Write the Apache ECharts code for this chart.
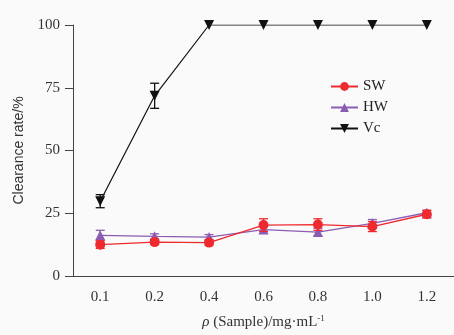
<!DOCTYPE html>
<html>
<head>
<meta charset="utf-8">
<script src="https://cdn.jsdelivr.net/npm/echarts@6/dist/echarts.min.js"></script>
<style>
html,body{margin:0;padding:0;background:#fafafa;}
#c{width:454px;height:335px;}
</style>
</head>
<body>
<div id="c"></div>
<script>
const categories = ['0.1','0.2','0.4','0.6','0.8','1.0','1.2'];
const yTicks = [0, 25, 50, 75, 100];
const swValues = [12.5, 13.5, 13.3, 20.3, 20.5, 19.7, 24.6];
const swErrors = [1.5, 1.0, 1.0, 2.5, 2.3, 2.0, 1.5];
const hwValues = [16.2, 15.8, 15.5, 18.5, 17.5, 21.0, 25.2];
const hwErrors = [2.0, 1.0, 1.0, 1.5, 1.5, 1.5, 1.0];
const vcValues = [29.8, 71.8, 100, 100, 100, 100, 100];
const vcErrors = [2.6, 5.0, 0, 0, 0, 0, 0];

const SERIF = 'Liberation Serif';
const colors = { SW: '#ee2a2e', HW: '#8a5db3', Vc: '#111111' };

function errData(vals, errs) {
  return vals.map((v, i) => [i, v - errs[i], v + errs[i]]);
}
function errRender(color) {
  return function (params, api) {
    const i = api.value(0);
    const lo = api.coord([i, api.value(1)]);
    const hi = api.coord([i, api.value(2)]);
    if (Math.abs(lo[1] - hi[1]) < 0.5) return null;
    const w = 4.5;
    const st = { stroke: color, lineWidth: 1.3 };
    return {
      type: 'group',
      children: [
        { type: 'line', shape: { x1: lo[0], y1: lo[1], x2: hi[0], y2: hi[1] }, style: st },
        { type: 'line', shape: { x1: lo[0] - w, y1: lo[1], x2: lo[0] + w, y2: lo[1] }, style: st },
        { type: 'line', shape: { x1: hi[0] - w, y1: hi[1], x2: hi[0] + w, y2: hi[1] }, style: st }
      ]
    };
  };
}

const chart = echarts.init(document.getElementById('c'));
chart.setOption({
  backgroundColor: '#fafafa',
  animation: false,
  grid: { left: 73, right: -2, top: 25, bottom: 57 },
  legend: {
    data: ['SW', 'HW', 'Vc'],
    orient: 'vertical',
    left: 325,
    top: 74,
    itemWidth: 27,
    itemHeight: 11,
    itemGap: 6,
    textStyle: { fontFamily: SERIF, fontSize: 15, color: '#222' }
  },
  xAxis: {
    type: 'category',
    data: categories,
    boundaryGap: true,
    axisLine: { lineStyle: { color: '#444', width: 1 } },
    axisTick: { alignWithLabel: true, length: 5, lineStyle: { color: '#444' } },
    axisLabel: { fontFamily: SERIF, fontSize: 15, color: '#333', margin: 14 },
    splitLine: { show: false },
    name: '{i|ρ} (Sample)/mg·mL{sup|-1}',
    nameLocation: 'middle',
    nameGap: 38,
    nameTextStyle: {
      fontFamily: SERIF, fontSize: 15, color: '#333',
      rich: {
        i: { fontFamily: SERIF, fontStyle: 'italic', fontSize: 15, color: '#333' },
        sup: { fontFamily: SERIF, fontSize: 9, color: '#333', verticalAlign: 'top', padding: [0, 0, 8, 0] }
      }
    }
  },
  yAxis: {
    type: 'value',
    min: yTicks[0],
    max: yTicks[yTicks.length - 1],
    interval: 25,
    axisLine: { show: true, lineStyle: { color: '#444', width: 1 } },
    axisTick: { show: true, length: 8, lineStyle: { color: '#444' } },
    axisLabel: { fontFamily: SERIF, fontSize: 15, color: '#333', margin: 13 },
    splitLine: { show: false },
    name: 'Clearance rate/%',
    nameLocation: 'middle',
    nameGap: 46,
    nameTextStyle: { fontFamily: 'Liberation Sans', fontSize: 14, color: '#333' }
  },
  series: [
    {
      name: 'HW', type: 'line', data: hwValues, z: 3,
      symbol: 'triangle', symbolSize: 10,
      lineStyle: { color: colors.HW, width: 1.3 },
      itemStyle: { color: colors.HW }
    },
    {
      name: 'SW', type: 'line', data: swValues, z: 4,
      symbol: 'circle', symbolSize: 10,
      lineStyle: { color: colors.SW, width: 1.3 },
      itemStyle: { color: colors.SW }
    },
    {
      name: 'Vc', type: 'line', data: vcValues, z: 5,
      symbol: 'triangle', symbolRotate: 180, symbolSize: 10,
      lineStyle: { color: colors.Vc, width: 1.2 },
      itemStyle: { color: colors.Vc }
    },
    { name: 'HW err', type: 'custom', data: errData(hwValues, hwErrors), renderItem: errRender(colors.HW), z: 3 },
    { name: 'SW err', type: 'custom', data: errData(swValues, swErrors), renderItem: errRender(colors.SW), z: 4 },
    { name: 'Vc err', type: 'custom', data: errData(vcValues, vcErrors), renderItem: errRender(colors.Vc), z: 5 }
  ]
});
</script>
</body>
</html>
